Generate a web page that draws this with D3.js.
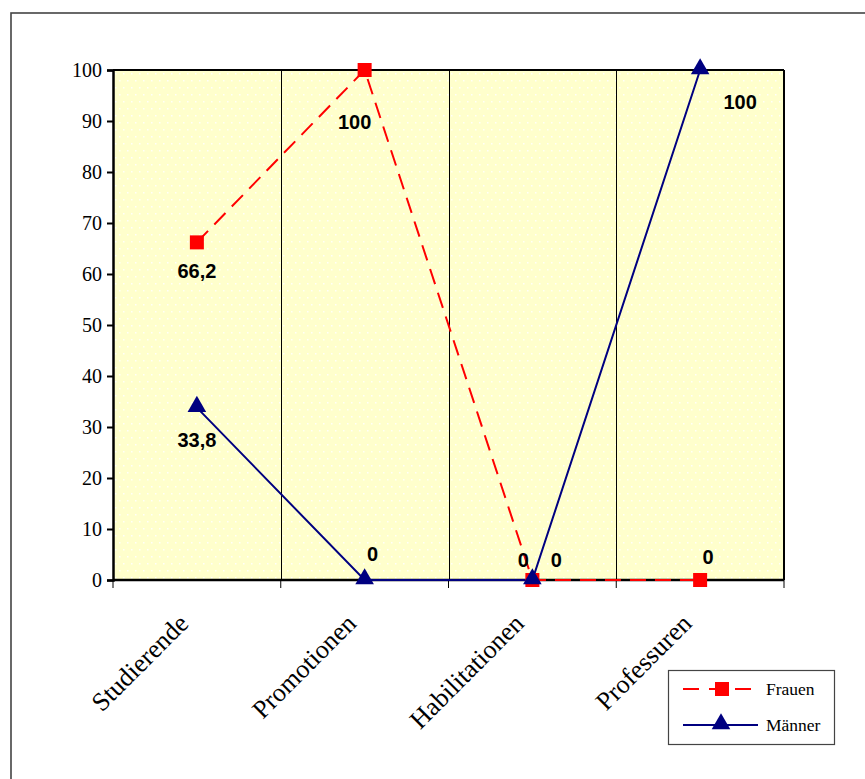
<!DOCTYPE html>
<html>
<head>
<meta charset="utf-8">
<script src="https://cdn.jsdelivr.net/npm/d3@7"></script>
<style>
  html, body { margin: 0; padding: 0; background: #fff; }
  svg { display: block; }
</style>
</head>
<body>
<svg id="chart" width="865" height="779"></svg>
<script>
const categories = ["Studierende", "Promotionen", "Habilitationen", "Professuren"];
const frauen = [66.2, 100, 0, 0];
const maenner = [33.8, 0, 0, 100];
const frauenLabels = ["66,2", "100", "0", "0"];
const maennerLabels = ["33,8", "0", "0", "100"];
const yTicks = [0, 10, 20, 30, 40, 50, 60, 70, 80, 90, 100];

// label offsets (layout only)
const frauenLabelOffsets = [[0, 36], [-10, 59], [-9, -13], [8, -16]];
const maennerLabelOffsets = [[0, 39], [8, -19], [24, -13], [40, 39]];

const svg = d3.select("#chart");
const W = 865, H = 779;
const pL = 113, pR = 784, pT = 70, pB = 580;
const serif = "'Liberation Serif', 'Times New Roman', serif";

// outer frame
svg.append("rect").attr("x", 11).attr("y", 13).attr("width", W + 10).attr("height", H + 10)
  .attr("fill", "#fff").attr("stroke", "#444").attr("stroke-width", 1.6);

// pattern
const defs = svg.append("defs");
const pat = defs.append("pattern").attr("id", "dots").attr("patternUnits", "userSpaceOnUse")
  .attr("width", 8).attr("height", 14).attr("x", pL).attr("y", pT);
pat.append("rect").attr("width", 8).attr("height", 14).attr("fill", "#FFFFCC");
pat.append("rect").attr("x", 2).attr("y", 3).attr("width", 1.5).attr("height", 1.5).attr("fill", "#fff").attr("opacity", 0.9);
pat.append("rect").attr("x", 6).attr("y", 10).attr("width", 1.5).attr("height", 1.5).attr("fill", "#fff").attr("opacity", 0.9);

const x = d3.scaleBand().domain(categories).range([pL, pR]).padding(0);
const y = d3.scaleLinear().domain([0, 100]).range([pB, pT]);
const cx = c => x(c) + x.bandwidth() / 2;

svg.append("rect").attr("x", pL).attr("y", pT).attr("width", pR - pL).attr("height", pB - pT)
  .attr("fill", "url(#dots)");

// vertical gridlines at band boundaries
svg.append("g").selectAll("line").data(categories.slice(1)).join("line")
  .attr("x1", d => Math.round(x(d)) + 0.5).attr("x2", d => Math.round(x(d)) + 0.5)
  .attr("y1", pT).attr("y2", pB)
  .attr("stroke", "#000").attr("stroke-width", 1);

// plot border top/right
svg.append("line").attr("x1", pL).attr("x2", pR).attr("y1", pT).attr("y2", pT)
  .attr("stroke", "#000").attr("stroke-width", 2);
svg.append("line").attr("x1", pR).attr("x2", pR).attr("y1", pT).attr("y2", pB)
  .attr("stroke", "#000").attr("stroke-width", 2);

// Y axis
const yAxis = d3.axisLeft(y).tickValues(yTicks).tickSize(6).tickPadding(5);
const gy = svg.append("g").attr("transform", `translate(${pL},0)`).call(yAxis)
  .attr("font-family", serif).attr("font-size", 20);
gy.select(".domain").attr("stroke", "#000").attr("stroke-width", 2.5);
gy.selectAll(".tick line").attr("stroke", "#000").attr("stroke-width", 2);
gy.selectAll(".tick text").style("font-family", serif)
  .style("font-size", "20px").attr("fill", "#000");

// X axis
const boundaries = categories.map(c => x(c)).concat([pR]);
const gx = svg.append("g");
gx.append("line").attr("x1", pL).attr("x2", pR).attr("y1", pB).attr("y2", pB)
  .attr("stroke", "#000").attr("stroke-width", 2.5);
gx.selectAll("line.tk").data(boundaries).join("line").attr("class", "tk")
  .attr("x1", d => d).attr("x2", d => d).attr("y1", pB).attr("y2", pB + 8)
  .attr("stroke", "#000").attr("stroke-width", 1);
gx.selectAll("text").data(categories).join("text")
  .attr("transform", d => `translate(${cx(d) - 7},${pB + 45}) rotate(-45)`)
  .attr("text-anchor", "end")
  .style("font-family", serif)
  .style("font-size", "26px").attr("fill", "#000")
  .text(d => d);

// lines
const lineGen = d3.line().x((d, i) => cx(categories[i])).y(d => y(d));
svg.append("path").datum(maenner).attr("d", lineGen).attr("fill", "none")
  .attr("stroke", "#000080").attr("stroke-width", 2);
svg.append("path").datum(frauen).attr("d", lineGen).attr("fill", "none")
  .attr("stroke", "#FF0000").attr("stroke-width", 2).attr("stroke-dasharray", "16,9");

// markers
const tri = d3.symbol().type(d3.symbolTriangle).size(150);
svg.append("g").selectAll("rect").data(frauen).join("rect")
  .attr("x", (d, i) => cx(categories[i]) - 7).attr("y", d => y(d) - 7)
  .attr("width", 14).attr("height", 14).attr("fill", "#FF0000");
svg.append("g").selectAll("path").data(maenner).join("path")
  .attr("d", tri).attr("transform", (d, i) => `translate(${cx(categories[i])},${y(d) - 1})`)
  .attr("fill", "#000080");

// data labels
const lblFont = "'Liberation Sans', Arial, sans-serif";
svg.append("g").selectAll("text").data(frauen).join("text")
  .attr("x", (d, i) => cx(categories[i]) + frauenLabelOffsets[i][0])
  .attr("y", (d, i) => y(d) + frauenLabelOffsets[i][1])
  .attr("text-anchor", "middle").style("font-family", lblFont).style("font-weight", "bold")
  .style("font-size", "20px").attr("fill", "#000")
  .text((d, i) => frauenLabels[i]);
svg.append("g").selectAll("text").data(maenner).join("text")
  .attr("x", (d, i) => cx(categories[i]) + maennerLabelOffsets[i][0])
  .attr("y", (d, i) => y(d) + maennerLabelOffsets[i][1])
  .attr("text-anchor", "middle").style("font-family", lblFont).style("font-weight", "bold")
  .style("font-size", "20px").attr("fill", "#000")
  .text((d, i) => maennerLabels[i]);

// legend
const lg = svg.append("g");
lg.append("rect").attr("x", 668.5).attr("y", 670.5).attr("width", 166).attr("height", 74)
  .attr("fill", "#fff").attr("stroke", "#444").attr("stroke-width", 1.2);
const legendItems = [
  { name: "Frauen", color: "#FF0000", dash: "16,10", marker: "square", y: 689 },
  { name: "Männer", color: "#000080", dash: null, marker: "triangle", y: 725 }
];
legendItems.forEach(it => {
  lg.append("line").attr("x1", 683).attr("x2", 758).attr("y1", it.y).attr("y2", it.y)
    .attr("stroke", it.color).attr("stroke-width", 2)
    .attr("stroke-dasharray", it.dash);
  if (it.marker === "square") {
    lg.append("rect").attr("x", 715).attr("y", it.y - 7).attr("width", 14).attr("height", 14).attr("fill", it.color);
  } else {
    lg.append("path").attr("d", tri).attr("transform", `translate(721,${it.y - 1})`).attr("fill", it.color);
  }
  lg.append("text").attr("x", 766).attr("y", it.y + 6)
    .style("font-family", serif)
    .style("font-size", "17.5px").attr("fill", "#000").text(it.name);
});
</script>
</body>
</html>
